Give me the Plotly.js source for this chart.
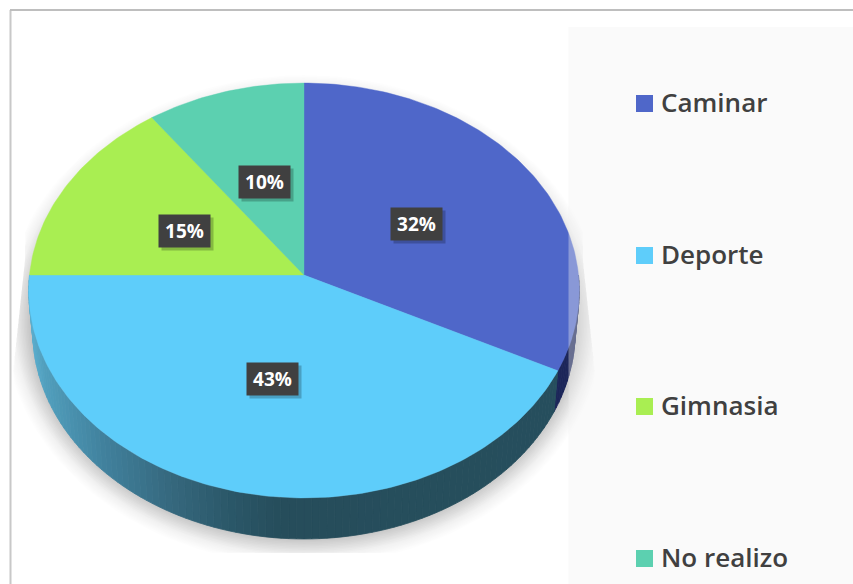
<!DOCTYPE html>
<html>
<head>
<meta charset="utf-8">
<script src="https://cdn.plot.ly/plotly-3.0.1.min.js"></script>
<style>html,body{margin:0;padding:0;background:#fff}#chart{width:853px;height:584px}</style>
</head>
<body>
<div id="chart"></div>
<script>
// Data
var categories = ['Caminar', 'Deporte', 'Gimnasia', 'No realizo'];
var values = [32.4, 42.6, 15, 10];
var colors = ['#4f67c9', '#5ecdfa', '#a9ee52', '#5cd0b0'];

// Canvas-unit geometry of the tilted pie
var W = 853, H = 584;
var apexX = 304, apexY = 275, A = 274.5, B = 206.3, K = 0.0747, depth = 41, baseShrink = 0.985;
var labelPos = [[416.5, 223.5], [272.5, 378.5], [184.5, 230.5], [264, 181.5]];
var legendY = [103.5, 255.5, 406.5, 558.5];
var legendTextY = [105.5, 257.5, 408.5, 560.5];
var legendX = 644.5, legendTextX = 661;

var total = values.reduce(function (a, b) { return a + b; }, 0);

function rim(deg) {
  var t = deg * Math.PI / 180, u = Math.sin(t), v = Math.cos(t), d = 1 + K * v;
  return [apexX + A * u / d, apexY - B * v / d];
}
function base(deg) {
  var p = rim(deg);
  return [apexX + (p[0] - apexX) * baseShrink, p[1] + depth];
}
function range(a, b, step) {
  var out = [];
  for (var d = a; d < b; d += step) out.push(d);
  out.push(b);
  return out;
}
function hexLerp(stops, x) {
  var i = 0;
  if (x <= stops[0][0]) return stops[0][1];
  if (x >= stops[stops.length - 1][0]) return stops[stops.length - 1][1];
  while (x > stops[i + 1][0]) i++;
  var f = (x - stops[i][0]) / (stops[i + 1][0] - stops[i][0]);
  var a = stops[i][1], b = stops[i + 1][1], s = '#';
  for (var c = 1; c < 7; c += 2) {
    var n = Math.round(parseInt(a.substr(c, 2), 16) * (1 - f) + parseInt(b.substr(c, 2), 16) * f);
    s += (n < 16 ? '0' : '') + n.toString(16);
  }
  return s;
}
function poly(pts, color, lw) {
  return {
    type: 'scatter', mode: 'lines', x: pts.map(function (p) { return p[0]; }), y: pts.map(function (p) { return p[1]; }),
    fill: 'toself', fillcolor: color, line: { color: lw ? color : 'rgba(0,0,0,0)', width: lw || 0 },
    hoverinfo: 'skip', showlegend: false
  };
}

var traces = [];

// soft drop shadow: nested translucent ellipses, clipped to a trapezoid
for (var e = 28; e >= 2; e -= 1.5) {
  var pts = range(0, 360, 3).map(function (deg) {
    var t = deg * Math.PI / 180;
    var x = 304 + (272 + e) * Math.sin(t), y = 320 - (217 + e) * Math.cos(t);
    y = Math.min(y, 553);
    var off = 279 + (Math.max(y, 260) - 260) * 0.109;
    x = Math.max(304 - off, Math.min(304 + off, x));
    return [x, y];
  });
  traces.push(poly(pts, 'rgba(0,0,0,' + (e > 18 ? 0.007 : 0.017) + ')'));
}

// side wall
var wallStops = [[30, '#5aaccc'], [43, '#519fbd'], [100, '#41829e'], [167, '#36697f'], [233, '#2a5667'], [283, '#264d5b'], [853, '#25505f']];
var split = values[0] / total * 360;
range(90, 270, 1.5).forEach(function (d, i, arr) {
  if (i === arr.length - 1) return;
  var d2 = arr[i + 1];
  var a = Math.max(d, split), b = Math.max(d2, split);
  if (d < split) {
    var c = Math.min(d2, split);
    traces.push(poly([rim(d), rim(c), base(c), base(d), rim(d)], '#1c2659', 0.8));
  }
  if (b > a) {
    var midX = (rim(a)[0] + rim(b)[0]) / 2;
    traces.push(poly([rim(a), rim(b), base(b), base(a), rim(a)], hexLerp(wallStops, midX), 0.8));
  }
});

// top faces
var start = 0;
values.forEach(function (v, i) {
  var end = start + v / total * 360;
  var pts = [[apexX, apexY]].concat(range(start, end, 1).map(rim));
  pts.push([apexX, apexY]);
  var tr = poly(pts, colors[i], 0.4);
  tr.name = categories[i];
  traces.push(tr);
  start = end;
});

// translucent legend panel
traces.push(poly([[568.5, 27], [W, 27], [W, H], [568.5, H], [568.5, 27]], 'rgba(241,241,241,0.36)'));

// legend
traces.push({
  type: 'scatter', mode: 'markers', x: categories.map(function () { return legendX; }), y: legendY,
  marker: { symbol: 'square', size: 17, color: colors, line: { width: 0 } },
  hoverinfo: 'skip', showlegend: false
});
traces.push({
  type: 'scatter', mode: 'text', x: categories.map(function () { return legendTextX; }), y: legendTextY,
  text: categories, textposition: 'middle right',
  textfont: { family: 'Open Sans', size: 26, color: '#404040', weight: 600 },
  hoverinfo: 'skip', showlegend: false
});

// data labels
var annotations = [];
values.forEach(function (v, i) {
  annotations.push({
    x: labelPos[i][0] + 3, y: labelPos[i][1] + 3, xref: 'x', yref: 'y', showarrow: false, text: ' ',
    width: 51, height: 32, bgcolor: 'rgba(0,0,0,0.22)', borderpad: 0, font: { size: 12 }
  });
  annotations.push({
    x: labelPos[i][0], y: labelPos[i][1], xref: 'x', yref: 'y', showarrow: false,
    text: Math.round(v) + '%', width: 51, height: 32, bgcolor: '#404040', borderpad: 0,
    font: { family: 'Open Sans', size: 19, color: '#ffffff', weight: 700 }
  });
});

var layout = {
  width: W, height: H, margin: { l: 0, r: 0, t: 0, b: 0 }, paper_bgcolor: '#ffffff', plot_bgcolor: '#ffffff',
  showlegend: false,
  xaxis: { range: [0, W], visible: false, fixedrange: true },
  yaxis: { range: [H, 0], visible: false, fixedrange: true },
  shapes: [
    { type: 'line', layer: 'above', xref: 'x', yref: 'y', x0: 10.5, x1: 10.5, y0: 10, y1: H, line: { color: '#c8c8c8', width: 2 } },
    { type: 'line', layer: 'above', xref: 'x', yref: 'y', x0: 10, x1: W, y0: 10, y1: 10, line: { color: '#bebebe', width: 2 } }
  ],
  annotations: annotations
};
Plotly.newPlot('chart', traces, layout, { displayModeBar: false, staticPlot: true });
</script>
</body>
</html>
